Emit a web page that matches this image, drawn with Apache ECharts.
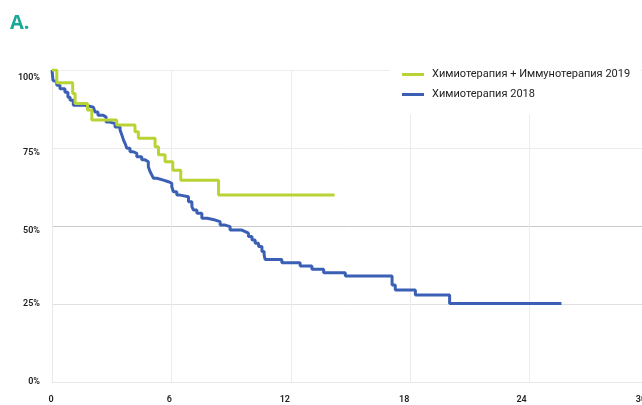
<!DOCTYPE html>
<html>
<head>
<meta charset="utf-8">
<script src="https://cdn.jsdelivr.net/npm/echarts@6/dist/echarts.min.js"></script>
<style>html,body{margin:0;padding:0;background:#fff}#c{width:642px;height:405px}</style>
</head>
<body>
<div id="c"></div>
<script>
const nameGreen = 'Химиотерапия + Иммунотерапия 2019';
const nameBlue = 'Химиотерапия 2018';
const xTicks = [0, 6, 12, 18, 24, 30];
const yTicks = [0, 25, 50, 75, 100];

const greenX = [0, 0.24, 1.04, 1.16, 1.78, 2.0, 3.25, 4.17, 4.34, 5.18, 5.35, 5.68, 6.07, 6.47, 8.37, 14.2];
const greenY = [100, 95.9, 92.5, 89.3, 87.2, 84.0, 82.4, 80.2, 78.1, 75.4, 72.8, 70.6, 67.9, 64.7, 59.9, 59.9];

const blueX = [0, 0.05, 0.15, 0.24, 0.40, 0.65, 0.80, 0.91, 1.07, 1.66, 2.08, 2.16, 2.31, 2.57, 2.72, 2.92, 3.17, 3.42, 3.51, 3.59, 3.67, 3.76, 3.92, 4.09, 4.26, 4.51, 4.68, 4.84, 4.93, 5.02, 5.10, 5.27, 5.60, 5.85, 6.02, 6.10, 6.27, 6.44, 6.86, 7.03, 7.11, 7.28, 7.53, 7.80, 8.20, 8.45, 8.70, 8.95, 9.54, 9.71, 9.87, 10.05, 10.21, 10.38, 10.55, 10.66, 10.71, 11.55, 12.47, 13.06, 13.65, 14.74, 17.09, 17.25, 18.26, 19.98, 25.6];
const blueY = [100, 96.7, 96.2, 95.1, 94.0, 92.9, 91.3, 90.3, 88.7, 88.1, 87.6, 86.5, 85.5, 84.9, 83.3, 82.8, 81.7, 80.8, 79.2, 77.6, 76.5, 74.9, 73.8, 73.3, 72.2, 71.2, 70.6, 69.0, 67.4, 66.3, 65.3, 64.7, 64.2, 63.7, 62.6, 61.0, 59.9, 59.4, 57.8, 56.2, 55.1, 54.1, 52.5, 51.9, 51.4, 50.3, 49.8, 48.7, 48.2, 47.7, 46.6, 45.5, 44.5, 43.4, 41.8, 40.7, 39.3, 38.2, 37.2, 36.1, 35.0, 34.0, 31.1, 29.5, 27.9, 25.2, 25.2];

const toPairs = (xs, ys) => xs.map((x, i) => [x, ys[i]]);

// label nudges to match the reference's slightly offset tick labels
const xLabelStyle = {x0: 2, x6: 4, x12: 12, x18: 12, x24: 16, x30: 16};
const yLabelStyle = {y0: 0, y25: 0, y50: 10, y75: 10, y100: 16};
const xRich = {}, yRich = {};
Object.keys(xLabelStyle).forEach(k => { xRich[k] = {padding: [0, xLabelStyle[k], 0, 0], fontSize: 9, color: '#222', fontWeight: 600, fontFamily: 'Roboto'}; });
Object.keys(yLabelStyle).forEach(k => { yRich[k] = {padding: [yLabelStyle[k], 0, 0, 0], fontSize: 9, color: '#222', fontWeight: 600, fontFamily: 'Roboto'}; });

const chart = echarts.init(document.getElementById('c'), null, {renderer: 'canvas'});
chart.setOption({
  animation: false,
  backgroundColor: '#fff',
  title: {
    text: 'A.', left: 5, top: 8,
    textStyle: {color: '#1aa898', fontSize: 20, fontWeight: 'bold', fontFamily: 'Open Sans'}
  },
  grid: {left: 52, right: -7, top: 70, bottom: 23, outerBoundsMode: 'none'},
  legend: {
    orient: 'vertical', left: 390, top: 53,
    padding: [16, 10, 14, 12],
    backgroundColor: '#fff',
    itemGap: 9, itemWidth: 22, itemHeight: 14,
    data: [
      {name: nameGreen, icon: 'path://M0,6L22,6L22,9L0,9Z'},
      {name: nameBlue, icon: 'path://M0,6L22,6L22,9L0,9Z'}
    ],
    textStyle: {fontSize: 11, color: '#222', fontFamily: 'Roboto', padding: [0, 0, 0, 3]}
  },
  xAxis: {
    type: 'value', min: xTicks[0], max: xTicks[xTicks.length - 1], interval: 6,
    axisLine: {show: true, lineStyle: {color: '#e8e8e8'}},
    axisTick: {show: false},
    axisLabel: {
      margin: 13, showMaxLabel: true,
      formatter: v => '{x' + v + '|' + v + '}',
      rich: xRich
    },
    splitLine: {show: true, lineStyle: {color: '#ececec', width: 1}}
  },
  yAxis: {
    type: 'value', min: yTicks[0], max: yTicks[yTicks.length - 1], interval: 25,
    axisLine: {show: true, lineStyle: {color: '#e8e8e8'}},
    axisTick: {show: false},
    axisLabel: {
      margin: 12,
      formatter: v => '{y' + v + '|' + v + '%}',
      rich: yRich
    },
    splitLine: {show: true, lineStyle: {color: ['#eeeeee', '#e0e0e0', '#c9c9c9', '#ebebeb', '#eeeeee'], width: 1}}
  },
  series: [
    {
      name: nameBlue, type: 'line', step: 'end', showSymbol: false,
      color: '#3b5fb5', lineStyle: {width: 3, color: '#3b5fb5'},
      data: toPairs(blueX, blueY)
    },
    {
      name: nameGreen, type: 'line', step: 'end', showSymbol: false,
      color: '#b7d434', lineStyle: {width: 3, color: '#b7d434'},
      data: toPairs(greenX, greenY)
    }
  ]
});
</script>
</body>
</html>
